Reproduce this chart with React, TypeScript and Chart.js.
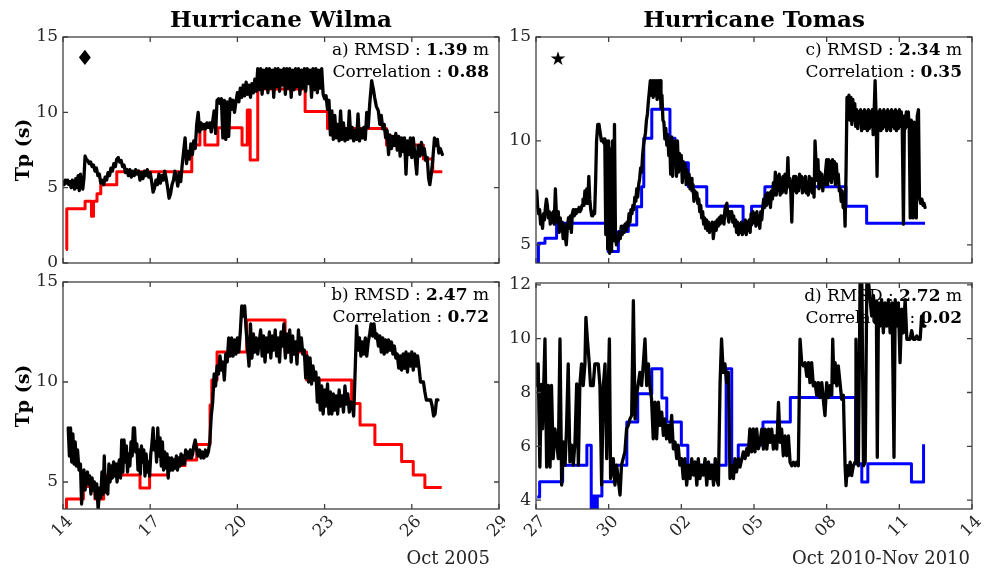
import React, { useEffect, useRef } from 'react';
import { Chart, registerables } from 'chart.js';
Chart.register(...registerables);

type Pt = [number, number];

// ---------- axes ----------
const wilmaXTicks = [14, 17, 20, 23, 26, 29];
const wilmaXLabels = ['14', '17', '20', '23', '26', '29'];
const tomasXTicks = [27, 30, 33, 36, 39, 42, 45];
const tomasXLabels = ['27', '30', '02', '05', '08', '11', '14'];
const aYTicks = [0, 5, 10, 15];
const bYTicks = [5, 10, 15];
const cYTicks = [5, 10, 15];
const dYTicks = [4, 6, 8, 10, 12];

// ---------- a) Wilma, top ----------
const aBlack: Pt[] = [
  [14.00,5.4],[14.04,5.2],[14.08,5.5],[14.12,5.3],[14.16,5.5],[14.20,5.2],[14.24,5.4],[14.28,5.0],[14.32,5.5],[14.36,5.3],
  [14.40,4.9],[14.44,5.6],[14.48,5.0],[14.52,5.8],[14.56,4.8],[14.60,5.9],[14.64,5.2],[14.68,4.9],[14.72,5.6],[14.76,7.1],
  [14.80,6.9],[14.85,6.8],[14.90,6.6],[14.95,6.7],[15.00,6.4],[15.05,6.5],[15.10,6.1],[15.15,6.3],[15.20,5.8],[15.25,5.9],
  [15.30,5.3],[15.35,5.5],[15.40,5.2],[15.45,5.7],[15.50,5.5],[15.55,6.0],[15.60,5.8],[15.65,6.3],[15.70,6.1],[15.75,6.6],
  [15.80,6.4],[15.85,6.9],[15.90,7.0],[15.95,6.7],[16.00,6.8],[16.05,6.4],[16.10,6.5],[16.15,6.0],[16.20,6.2],[16.25,5.8],
  [16.30,6.2],[16.35,5.7],[16.40,6.1],[16.45,5.8],[16.50,6.2],[16.55,5.9],[16.60,6.1],[16.65,5.5],[16.70,6.0],[16.75,5.6],
  [16.80,6.1],[16.85,5.8],[16.90,6.2],[16.95,5.7],[17.00,6.0],[17.05,5.4],[17.10,4.7],[17.15,5.0],[17.20,5.5],[17.25,5.2],
  [17.30,5.9],[17.35,5.3],[17.40,5.8],[17.45,5.5],[17.50,6.1],[17.55,5.6],[17.60,5.0],[17.65,4.3],[17.70,4.6],[17.75,5.2],
  [17.80,5.5],[17.85,6.1],[17.90,5.7],[17.95,5.1],[18.00,6.0],[18.05,5.4],[18.10,6.5],[18.15,7.4],[18.20,8.3],[18.25,6.6],
  [18.30,7.4],[18.35,6.9],[18.40,7.9],[18.45,7.2],[18.50,8.1],[18.55,7.6],[18.60,9.2],[18.65,10.0],[18.70,8.7],[18.75,9.3],
  [18.80,8.9],[18.85,9.2],[18.90,8.9],[18.95,9.3],[19.00,9.0],[19.05,9.3],[19.10,8.7],[19.15,9.4],[19.20,10.1],[19.25,8.6],
  [19.30,10.8],[19.35,10.9],[19.40,10.6],[19.45,10.9],[19.50,8.3],[19.55,10.8],[19.60,8.2],[19.65,10.7],[19.70,8.4],[19.75,10.9],
  [19.80,10.2],[19.85,10.8],[19.90,10.0],[19.95,10.7],[20.00,11.3],[20.05,10.7],[20.10,11.6],[20.15,11.0],[20.20,11.8],[20.25,11.1],
  [20.30,12.0],[20.35,11.2],[20.40,11.8],[20.45,11.0],[20.50,11.9],[20.55,11.3],[20.60,12.2],[20.65,11.4],[20.70,12.9],[20.75,11.5],
  [20.80,12.9],[20.85,11.2],[20.90,12.8],[20.95,11.6],[21.00,12.9],[21.05,11.3],[21.10,12.9],[21.15,11.6],[21.20,12.8],[21.25,11.0],
  [21.30,12.9],[21.35,11.7],[21.40,12.9],[21.45,11.4],[21.50,12.8],[21.55,11.8],[21.60,12.9],[21.65,11.2],[21.70,12.9],[21.75,11.6],
  [21.80,12.9],[21.85,11.0],[21.90,12.8],[21.95,11.5],[22.00,12.9],[22.05,11.7],[22.10,12.9],[22.15,11.2],[22.20,12.8],[22.25,11.6],
  [22.30,12.9],[22.35,11.4],[22.40,12.9],[22.45,11.9],[22.50,12.8],[22.55,11.0],[22.60,12.9],[22.65,11.5],[22.70,12.9],[22.75,11.3],
  [22.80,12.8],[22.85,11.6],[22.90,12.9],[22.95,11.2],[23.00,10.9],[23.05,11.1],[23.10,10.2],[23.15,10.8],[23.20,8.5],[23.25,10.1],
  [23.30,8.2],[23.35,9.8],[23.40,8.3],[23.45,9.2],[23.50,8.1],[23.55,10.1],[23.60,8.2],[23.65,9.3],[23.70,8.1],[23.75,8.9],
  [23.80,8.2],[23.85,10.1],[23.90,8.3],[23.95,9.0],[24.00,8.1],[24.05,8.8],[24.10,8.2],[24.15,9.9],[24.20,8.1],[24.25,8.9],
  [24.30,8.3],[24.35,9.0],[24.40,8.2],[24.45,10.0],[24.50,9.0],[24.55,10.5],[24.62,12.1],[24.68,11.5],[24.72,11.0],[24.78,10.4],
  [24.85,10.1],[24.90,9.2],[24.95,9.8],[25.00,8.9],[25.05,9.2],[25.10,8.3],[25.15,8.8],[25.20,7.2],[25.25,8.5],[25.30,7.6],
  [25.35,8.4],[25.40,7.8],[25.45,8.6],[25.50,7.5],[25.55,8.4],[25.60,7.1],[25.65,8.3],[25.70,7.4],[25.75,8.3],[25.80,5.9],
  [25.85,8.1],[25.90,7.2],[25.95,8.3],[26.00,7.0],[26.05,8.3],[26.10,7.3],[26.17,5.9],[26.22,7.8],[26.28,7.1],[26.33,8.0],
  [26.38,7.2],[26.43,7.6],[26.48,6.8],[26.53,7.0],[26.58,5.6],[26.62,5.2],[26.67,5.9],[26.72,6.8],[26.78,8.3],[26.83,7.8],
  [26.88,8.2],[26.93,7.3],[26.98,7.6],[27.05,7.2],
];
const aRed: Pt[] = [
  [14.10,0.9],[14.13,3.6],[14.76,4.1],[14.98,3.1],[15.05,4.1],[15.17,4.6],[15.30,5.2],[15.85,6.05],[18.43,7.83],[18.71,8.98],
  [18.88,7.83],[19.33,8.98],[20.16,7.83],[20.34,10.15],[20.44,6.83],[20.70,11.55],[22.33,10.05],[23.10,8.92],[25.13,7.83],
  [26.40,6.9],[26.72,6.06],[27.05,6.06],
];

// ---------- b) Wilma, bottom ----------
const bBlack: Pt[] = [
  [14.18,7.7],[14.22,6.3],[14.26,7.7],[14.30,6.0],[14.34,7.4],[14.38,5.9],[14.42,7.0],[14.46,5.8],[14.50,6.6],[14.55,5.6],
  [14.60,5.9],[14.64,3.9],[14.68,5.0],[14.72,5.6],[14.76,4.6],[14.80,5.2],[14.84,5.5],[14.88,4.9],[14.92,5.3],[14.96,4.4],
  [15.00,5.2],[15.04,4.6],[15.08,5.0],[15.12,4.2],[15.16,4.9],[15.21,3.6],[15.26,4.7],[15.30,4.2],[15.34,5.5],[15.38,4.4],
  [15.42,6.3],[15.46,4.5],[15.50,5.2],[15.54,4.4],[15.58,5.9],[15.62,5.0],[15.66,5.8],[15.70,5.2],[15.74,6.0],[15.78,5.3],
  [15.82,5.9],[15.86,5.0],[15.90,5.8],[15.94,6.1],[15.98,5.2],[16.02,7.1],[16.06,5.5],[16.10,7.1],[16.14,6.0],[16.18,6.8],
  [16.22,5.5],[16.26,6.4],[16.30,5.8],[16.34,7.0],[16.38,6.3],[16.42,7.7],[16.46,7.7],[16.50,6.5],[16.54,6.9],[16.58,5.6],
  [16.62,6.6],[16.66,5.4],[16.70,6.8],[16.74,6.0],[16.78,6.6],[16.82,5.3],[16.86,6.4],[16.90,5.5],[16.94,6.0],[16.98,5.3],
  [17.02,6.4],[17.06,6.9],[17.10,7.7],[17.14,6.6],[17.18,7.0],[17.22,6.0],[17.26,7.7],[17.30,6.3],[17.34,7.2],[17.38,5.8],
  [17.42,7.0],[17.46,5.6],[17.50,6.5],[17.54,5.7],[17.58,6.4],[17.62,5.2],[17.66,6.2],[17.70,5.6],[17.74,6.2],[17.78,5.6],
  [17.82,6.1],[17.86,5.7],[17.90,6.3],[17.94,5.6],[17.98,6.2],[18.02,5.8],[18.06,6.4],[18.10,5.9],[18.14,6.3],[18.18,5.9],
  [18.22,6.6],[18.26,6.2],[18.30,6.5],[18.34,6.2],[18.38,6.6],[18.42,6.2],[18.46,6.4],[18.50,6.8],[18.55,7.1],[18.60,6.6],
  [18.65,6.3],[18.70,6.6],[18.75,6.2],[18.80,6.5],[18.85,6.2],[18.90,6.6],[18.95,6.3],[19.00,6.5],[19.05,7.0],[19.10,8.3],
  [19.15,9.0],[19.20,10.4],[19.25,9.8],[19.30,10.8],[19.35,10.4],[19.40,11.3],[19.45,10.6],[19.50,11.0],[19.55,10.1],[19.60,11.4],
  [19.65,11.0],[19.70,12.2],[19.75,11.3],[19.80,12.2],[19.85,11.3],[19.90,12.1],[19.95,11.4],[20.00,12.2],[20.05,11.5],[20.10,12.5],
  [20.15,13.8],[20.20,13.3],[20.25,13.8],[20.30,12.6],[20.35,11.7],[20.40,10.8],[20.45,12.9],[20.50,11.2],[20.55,12.4],[20.60,11.5],
  [20.65,12.2],[20.70,11.4],[20.75,12.0],[20.80,12.6],[20.85,11.3],[20.90,12.3],[20.95,11.0],[21.00,12.2],[21.05,11.5],[21.10,12.5],
  [21.15,11.2],[21.20,12.3],[21.25,11.6],[21.30,12.6],[21.35,11.3],[21.40,12.2],[21.45,11.0],[21.50,12.5],[21.55,11.8],[21.60,12.9],
  [21.65,11.2],[21.70,12.4],[21.75,11.5],[21.80,12.6],[21.85,11.0],[21.90,12.3],[21.95,11.4],[22.00,12.0],[22.05,10.9],[22.10,12.6],
  [22.15,11.6],[22.20,12.2],[22.25,11.4],[22.30,11.6],[22.35,10.2],[22.40,11.3],[22.45,10.0],[22.50,11.2],[22.55,9.9],[22.60,10.8],
  [22.65,10.1],[22.70,10.5],[22.75,9.0],[22.80,10.2],[22.85,8.6],[22.90,9.8],[22.95,8.4],[23.00,9.6],[23.05,8.8],[23.10,9.9],
  [23.15,8.4],[23.20,9.5],[23.25,8.4],[23.30,9.4],[23.35,8.6],[23.40,9.3],[23.45,8.4],[23.50,9.6],[23.55,8.8],[23.60,9.3],
  [23.65,8.5],[23.70,9.8],[23.75,8.9],[23.80,9.4],[23.85,8.5],[23.90,9.0],[23.95,8.9],[24.00,8.3],[24.05,10.5],[24.10,12.8],
  [24.15,11.6],[24.20,12.2],[24.25,11.3],[24.30,12.0],[24.35,11.4],[24.40,12.2],[24.45,11.3],[24.50,12.0],[24.55,12.4],[24.60,12.9],
  [24.65,12.3],[24.70,12.9],[24.75,12.2],[24.80,12.4],[24.85,11.8],[24.90,12.3],[24.95,11.5],[25.00,12.2],[25.05,11.4],[25.10,12.1],
  [25.15,11.5],[25.20,12.1],[25.25,11.6],[25.30,12.0],[25.35,11.4],[25.40,11.8],[25.45,11.2],[25.50,11.4],[25.55,10.7],[25.60,11.3],
  [25.65,10.6],[25.70,11.4],[25.75,10.7],[25.80,11.5],[25.85,10.5],[25.90,11.4],[25.95,10.8],[26.00,11.5],[26.05,10.6],[26.10,11.4],
  [26.15,10.8],[26.20,11.3],[26.25,10.7],[26.30,10.0],[26.35,10.0],[26.40,10.0],[26.45,9.5],[26.50,9.1],[26.55,9.1],[26.60,9.1],
  [26.65,9.1],[26.70,8.8],[26.75,8.3],[26.80,8.4],[26.85,9.1],[26.90,9.1],
];
const bRed: Pt[] = [
  [14.07,3.7],[14.12,4.15],[14.70,4.77],[15.10,4.15],[15.40,4.77],[15.50,5.35],[16.65,4.7],[16.98,5.35],[17.62,5.82],[18.20,6.1],
  [18.60,6.88],[19.06,8.85],[19.12,10.1],[19.30,11.5],[20.32,13.1],[21.64,11.5],[22.38,10.1],[23.93,8.93],[24.22,7.85],
  [24.73,6.88],[25.65,6.02],[26.05,5.35],[26.45,4.72],[27.03,4.72],
];

// ---------- c) Tomas, top ----------
const cBlack: Pt[] = [
  [27.03,7.6],[27.07,6.8],[27.11,6.5],[27.15,6.7],[27.19,6.0],[27.23,6.4],[27.27,5.8],[27.31,6.5],[27.35,6.2],[27.39,6.8],
  [27.43,7.2],[27.47,6.9],[27.51,6.3],[27.55,6.6],[27.59,6.0],[27.63,6.5],[27.67,6.1],[27.71,6.6],[27.75,6.0],[27.80,7.7],
  [27.84,6.5],[27.88,6.1],[27.92,6.6],[27.96,5.6],[28.00,6.3],[28.04,5.8],[28.08,6.1],[28.12,5.3],[28.16,6.0],[28.20,5.5],
  [28.25,5.0],[28.30,5.9],[28.34,6.3],[28.38,5.8],[28.42,6.4],[28.46,5.6],[28.50,6.5],[28.54,6.7],[28.58,6.4],[28.62,6.7],
  [28.66,6.5],[28.70,6.7],[28.74,6.6],[28.78,6.8],[28.82,6.6],[28.86,6.7],[28.90,6.9],[28.94,7.2],[28.98,6.9],[29.02,7.6],
  [29.06,7.0],[29.10,7.7],[29.14,7.0],[29.18,8.3],[29.22,7.2],[29.26,6.7],[29.30,6.4],[29.34,6.4],[29.38,6.6],[29.42,6.5],
  [29.46,8.0],[29.50,10.0],[29.55,10.8],[29.60,10.8],[29.65,10.4],[29.70,10.0],[29.75,10.1],[29.80,9.9],[29.84,10.1],[29.88,5.5],
  [29.92,10.0],[29.96,4.8],[30.00,10.0],[30.04,4.6],[30.08,9.6],[30.12,4.7],[30.16,10.0],[30.20,5.2],[30.24,10.8],[30.28,5.5],
  [30.32,5.0],[30.36,5.4],[30.40,5.2],[30.44,5.6],[30.48,5.3],[30.52,5.9],[30.56,5.5],[30.60,5.9],[30.64,5.6],[30.68,6.0],
  [30.72,5.7],[30.76,6.1],[30.80,5.9],[30.84,6.5],[30.88,6.1],[30.92,6.7],[30.96,6.5],[31.00,6.9],[31.04,6.7],[31.08,7.3],
  [31.12,7.1],[31.16,7.7],[31.20,7.3],[31.24,7.9],[31.28,8.2],[31.32,8.7],[31.36,8.5],[31.40,9.3],[31.44,9.8],[31.48,10.1],
  [31.52,10.4],[31.56,11.0],[31.60,11.3],[31.64,11.9],[31.68,12.4],[31.72,12.9],[31.76,12.2],[31.80,12.9],[31.84,12.1],[31.88,12.9],
  [31.92,12.2],[31.96,12.9],[32.00,12.0],[32.04,12.9],[32.08,12.1],[32.12,12.9],[32.16,11.6],[32.20,12.2],[32.24,11.0],[32.28,10.9],
  [32.32,10.1],[32.36,10.6],[32.40,9.8],[32.44,10.3],[32.48,9.3],[32.52,10.0],[32.56,8.4],[32.60,10.2],[32.64,8.3],[32.68,10.0],
  [32.72,9.2],[32.76,10.0],[32.80,8.3],[32.84,10.0],[32.88,8.5],[32.92,9.4],[32.96,8.6],[33.00,9.3],[33.04,8.0],[33.08,9.0],
  [33.12,8.4],[33.16,8.9],[33.20,7.9],[33.24,8.6],[33.28,8.0],[33.32,8.4],[33.36,7.7],[33.40,8.2],[33.44,7.6],[33.48,7.9],
  [33.52,7.1],[33.56,7.6],[33.60,7.3],[33.64,7.5],[33.68,7.0],[33.72,7.2],[33.76,6.6],[33.80,6.9],[33.84,6.3],[33.88,6.6],
  [33.92,6.0],[33.96,6.3],[34.00,5.8],[34.04,6.2],[34.08,5.7],[34.12,6.1],[34.16,5.6],[34.20,6.0],[34.24,5.7],[34.28,6.1],
  [34.32,5.3],[34.36,5.8],[34.40,6.1],[34.44,5.7],[34.48,6.2],[34.52,5.9],[34.56,6.3],[34.60,6.0],[34.64,6.4],[34.68,6.1],
  [34.72,6.4],[34.76,6.0],[34.80,6.7],[34.84,6.9],[34.88,7.0],[34.92,6.4],[34.96,6.1],[35.00,6.6],[35.04,6.3],[35.08,6.6],
  [35.12,6.1],[35.16,6.4],[35.20,5.9],[35.24,6.2],[35.28,5.6],[35.32,6.1],[35.36,5.5],[35.40,6.0],[35.44,5.6],[35.48,6.1],
  [35.52,5.5],[35.56,6.0],[35.60,5.6],[35.64,6.2],[35.68,5.5],[35.72,6.1],[35.76,5.7],[35.80,6.2],[35.84,5.6],[35.88,6.5],
  [35.92,6.0],[35.96,6.6],[36.00,6.1],[36.04,6.5],[36.08,5.9],[36.12,6.6],[36.16,6.0],[36.20,6.4],[36.24,5.8],[36.28,6.6],
  [36.32,6.2],[36.36,6.8],[36.40,7.2],[36.44,6.8],[36.48,7.4],[36.52,6.9],[36.56,7.5],[36.60,7.0],[36.64,7.5],[36.68,6.8],
  [36.72,7.6],[36.76,7.2],[36.80,8.0],[36.84,7.4],[36.88,8.5],[36.92,7.4],[36.96,8.3],[37.00,7.6],[37.04,8.4],[37.08,7.4],
  [37.12,8.2],[37.16,7.5],[37.20,8.3],[37.24,7.6],[37.28,8.4],[37.32,7.5],[37.36,8.0],[37.40,9.2],[37.44,7.8],[37.48,8.2],
  [37.52,7.5],[37.56,6.1],[37.60,7.8],[37.64,8.3],[37.68,7.6],[37.72,8.3],[37.76,7.5],[37.80,8.2],[37.84,7.6],[37.88,8.4],
  [37.92,7.8],[37.96,8.3],[38.00,7.5],[38.04,8.2],[38.08,7.6],[38.12,8.3],[38.16,7.5],[38.20,8.0],[38.24,7.4],[38.28,8.3],
  [38.32,7.6],[38.36,8.2],[38.40,7.5],[38.44,8.0],[38.48,7.3],[38.52,10.0],[38.56,9.0],[38.60,8.1],[38.64,9.1],[38.68,7.7],
  [38.72,8.5],[38.76,7.8],[38.80,8.4],[38.84,7.6],[38.88,8.2],[38.92,7.9],[38.96,8.6],[39.00,9.1],[39.04,7.9],[39.08,9.1],
  [39.12,8.1],[39.16,9.0],[39.20,8.0],[39.24,9.1],[39.28,8.2],[39.32,9.0],[39.36,7.9],[39.40,8.9],[39.44,8.0],[39.48,8.4],
  [39.52,7.6],[39.56,7.7],[39.60,7.1],[39.64,7.6],[39.68,6.8],[39.72,7.4],[39.76,5.9],[39.80,8.5],[39.84,12.1],[39.88,11.2],
  [39.92,12.2],[39.96,11.0],[40.00,12.1],[40.04,10.8],[40.08,12.0],[40.12,11.0],[40.16,11.8],[40.20,10.7],[40.24,11.5],[40.28,10.6],
  [40.32,11.4],[40.36,10.9],[40.40,11.5],[40.44,10.5],[40.48,11.4],[40.52,10.6],[40.56,11.5],[40.60,10.6],[40.64,11.4],[40.68,10.5],
  [40.72,11.5],[40.76,10.6],[40.80,11.4],[40.84,10.7],[40.88,11.5],[40.92,10.3],[40.96,11.4],[41.00,12.9],[41.04,11.2],[41.08,8.3],
  [41.12,11.4],[41.16,10.6],[41.20,11.5],[41.24,10.5],[41.28,11.4],[41.32,10.6],[41.36,11.5],[41.40,10.7],[41.44,11.4],[41.48,10.5],
  [41.52,11.5],[41.56,10.6],[41.60,11.4],[41.64,10.5],[41.68,11.5],[41.72,10.7],[41.76,11.4],[41.80,10.6],[41.84,11.5],[41.88,10.5],
  [41.92,11.4],[41.96,10.6],[42.00,11.5],[42.04,10.7],[42.08,11.4],[42.12,10.6],[42.17,6.0],[42.21,11.2],[42.25,10.6],[42.29,11.4],
  [42.33,10.7],[42.37,11.4],[42.41,10.6],[42.45,6.3],[42.49,11.0],[42.53,10.8],[42.57,6.3],[42.61,10.9],[42.65,10.6],[42.70,6.3],
  [42.74,11.2],[42.79,11.5],[42.83,7.3],[42.88,7.0],[42.93,7.2],[42.98,6.9],[43.02,7.0],[43.06,6.8],
];
const cBlue: Pt[] = [
  [27.08,4.1],[27.10,5.08],[27.37,5.32],[27.85,6.04],[29.98,4.68],[30.40,5.64],[30.81,5.96],[31.16,6.84],[31.36,7.8],
  [31.45,10.13],[31.78,11.52],[32.53,10.13],[32.74,8.95],[33.29,7.8],[34.05,6.86],[35.55,5.96],[35.90,6.86],[36.45,7.8],
  [39.80,6.86],[40.65,6.04],[43.06,6.04],
];

// ---------- d) Tomas, bottom ----------
const dBlack: Pt[] = [
  [27.00,9.06],[27.05,8.26],[27.09,9.06],[27.16,5.23],[27.22,8.3],[27.27,6.65],[27.37,9.99],[27.44,5.23],[27.51,8.26],[27.58,5.23],
  [27.64,8.26],[27.71,5.54],[27.78,6.65],[27.85,6.16],[27.92,5.54],[27.99,9.99],[28.06,4.56],[28.13,6.16],[28.20,5.30],[28.26,6.65],
  [28.33,9.06],[28.40,5.42],[28.47,6.04],[28.54,5.30],[28.61,6.16],[28.68,8.32],[28.75,5.30],[28.81,8.26],[28.88,9.06],[28.95,8.26],
  [29.02,9.06],[29.06,10.79],[29.12,9.99],[29.20,9.06],[29.25,8.26],[29.36,8.26],[29.43,9.06],[29.57,9.06],[29.64,8.26],[29.71,4.56],
  [29.78,8.26],[29.85,9.06],[29.92,5.54],[30.03,9.99],[30.08,4.80],[30.19,5.54],[30.26,4.56],[30.33,5.30],[30.47,4.19],[30.53,5.30],
  [30.67,5.79],[30.74,6.65],[30.81,6.78],[30.88,7.02],[30.95,7.15],[31.02,11.41],[31.09,7.02],[31.15,7.89],[31.29,8.75],[31.36,8.26],
  [31.43,9.06],[31.50,9.99],[31.57,8.26],[31.64,9.06],[31.70,8.26],[31.77,7.77],[31.84,6.28],[31.91,7.64],[31.98,6.28],[32.05,7.64],
  [32.12,6.78],[32.19,7.27],[32.26,6.41],[32.32,7.02],[32.39,6.28],[32.46,6.78],[32.53,6.16],[32.60,7.15],[32.67,5.91],[32.74,6.16],
  [32.81,5.54],[32.87,6.04],[32.94,5.30],[33.01,5.54],[33.08,4.80],[33.15,5.54],[33.22,4.56],[33.29,5.30],[33.36,4.80],[33.43,5.54],
  [33.50,4.93],[33.57,5.42],[33.64,4.56],[33.70,5.54],[33.77,4.80],[33.84,5.30],[33.91,4.93],[33.98,5.54],[34.05,4.56],[34.12,5.42],
  [34.19,4.80],[34.26,5.30],[34.33,4.56],[34.40,5.54],[34.46,4.80],[34.53,4.56],[34.60,8.38],[34.66,9.99],[34.73,8.75],[34.80,9.06],
  [34.87,8.38],[34.94,8.75],[35.01,4.80],[35.08,5.30],[35.15,4.80],[35.21,5.54],[35.28,5.05],[35.35,5.54],[35.42,5.23],[35.56,5.79],
  [35.63,5.54],[35.70,5.91],[35.76,5.67],[35.83,6.65],[35.90,5.79],[35.97,6.65],[36.04,5.79],[36.11,6.65],[36.18,5.91],[36.25,6.15],
  [36.32,6.64],[36.39,5.9],[36.46,6.64],[36.53,5.9],[36.60,6.64],[36.66,6.15],[36.73,6.64],[36.80,5.9],[36.87,6.39],[36.94,5.9],
  [37.01,7.63],[37.08,6.15],[37.14,6.64],[37.21,5.65],[37.28,6.39],[37.35,5.65],[37.42,6.39],[37.49,5.41],[37.56,5.28],[37.63,5.41],
  [37.70,5.28],[37.76,5.41],[37.83,5.28],[37.90,9.98],[37.97,9.11],[38.04,8.99],[38.11,9.11],[38.18,8.6],[38.25,9.11],[38.31,8.37],
  [38.38,9.11],[38.45,8.25],[38.52,8.37],[38.59,7.9],[38.66,8.37],[38.73,7.81],[38.80,8.37],[38.86,7.75],[38.93,7.14],[39.00,8.37],
  [39.07,7.81],[39.14,8.25],[39.21,7.9],[39.25,9.98],[39.30,8.37],[39.35,9.11],[39.42,8.25],[39.48,8.99],[39.55,8.37],[39.62,7.75],
  [39.69,7.9],[39.76,5.28],[39.80,4.54],[39.85,5.28],[39.90,4.91],[39.97,5.41],[40.03,4.91],[40.10,5.28],[40.17,5.41],[40.21,9.98],
  [40.26,5.41],[40.31,5.28],[40.38,12.2],[40.45,12.2],[40.52,5.28],[40.59,5.41],[40.66,12.2],[40.72,12.2],[40.79,11.45],[40.86,10.84],
  [40.93,11.6],[41.00,10.6],[41.05,11.4],[41.09,5.59],[41.14,11.33],[41.20,10.47],[41.27,11.45],[41.34,10.22],[41.41,11.33],[41.48,10.47],
  [41.55,11.45],[41.62,10.22],[41.70,11.33],[41.78,5.59],[41.83,11.45],[41.89,10.47],[41.96,11.33],[42.03,9.11],[42.10,11.1],[42.17,10.22],
  [42.24,11.45],[42.31,9.98],[42.38,9.98],[42.44,9.98],[42.51,10.3],[42.58,9.98],[42.65,9.98],[42.72,10.1],[42.79,9.98],[42.86,9.98],
  [42.92,10.84],[42.99,10.47],[43.06,10.47],
];
const dBlue: Pt[] = [
  [27.05,4.12],[27.15,4.68],[28.10,5.3],[29.10,6.04],[29.28,3.5],[29.36,4.15],[29.47,3.5],[29.53,4.15],[29.72,4.68],[30.24,5.3],
  [30.75,6.9],[31.20,7.95],[31.78,8.88],[32.20,7.8],[32.40,6.9],[33.00,6.04],[33.27,5.3],[34.85,8.88],[35.08,5.3],[35.35,6.05],
  [36.37,6.9],[37.50,7.81],[40.20,5.35],[40.45,4.67],[40.70,5.35],[42.50,4.67],[43.00,6.08],
];

// ---------- panel layout ----------
type Part = { t: string; b: boolean };
interface PanelCfg {
  left: number; top: number; w: number; h: number;
  padTop: number; padRight: number; yAxisW: number; xAxisH: number;
  xMin: number; xMax: number; xTicks: number[]; xLabels: string[] | null;
  yMin: number; yMax: number; yTicks: number[];
  black: Pt[]; model: Pt[]; color: string;
  line1: Part[]; line2: Part[]; marker: string | null; markerSize: number;
}

const panels: PanelCfg[] = [
  {
    left: 0, top: 0, w: 505, h: 270, padTop: 37, padRight: 6, yAxisW: 63, xAxisH: 7,
    xMin: 14, xMax: 29, xTicks: wilmaXTicks, xLabels: null,
    yMin: 0, yMax: 15, yTicks: aYTicks, black: aBlack, model: aRed, color: '#ff0000',
    line1: [{ t: 'a) RMSD : ', b: false }, { t: '1.39', b: true }, { t: ' m', b: false }],
    line2: [{ t: 'Correlation : ', b: false }, { t: '0.88', b: true }],
    marker: '\u2666', markerSize: 21,
  },
  {
    left: 0, top: 270, w: 505, h: 303, padTop: 12, padRight: 6, yAxisW: 63, xAxisH: 64,
    xMin: 14, xMax: 29, xTicks: wilmaXTicks, xLabels: wilmaXLabels,
    yMin: 3.65, yMax: 15, yTicks: bYTicks, black: bBlack, model: bRed, color: '#ff0000',
    line1: [{ t: 'b) RMSD : ', b: false }, { t: '2.47', b: true }, { t: ' m', b: false }],
    line2: [{ t: 'Correlation : ', b: false }, { t: '0.72', b: true }],
    marker: null, markerSize: 0,
  },
  {
    left: 505, top: 0, w: 480, h: 270, padTop: 37, padRight: 13, yAxisW: 31, xAxisH: 7,
    xMin: 27, xMax: 45, xTicks: tomasXTicks, xLabels: null,
    yMin: 4.13, yMax: 15, yTicks: cYTicks, black: cBlack, model: cBlue, color: '#0000ff',
    line1: [{ t: 'c) RMSD : ', b: false }, { t: '2.34', b: true }, { t: ' m', b: false }],
    line2: [{ t: 'Correlation : ', b: false }, { t: '0.35', b: true }],
    marker: '\u2605', markerSize: 19,
  },
  {
    left: 505, top: 270, w: 480, h: 303, padTop: 13, padRight: 13, yAxisW: 31, xAxisH: 64,
    xMin: 27, xMax: 45, xTicks: tomasXTicks, xLabels: tomasXLabels,
    yMin: 3.67, yMax: 12.07, yTicks: dYTicks, black: dBlack, model: dBlue, color: '#0000ff',
    line1: [{ t: 'd) RMSD : ', b: false }, { t: '2.72', b: true }, { t: ' m', b: false }],
    line2: [{ t: 'Correlation : ', b: false }, { t: '0.02', b: true }],
    marker: null, markerSize: 0,
  },
];

const SERIF = '"DejaVu Serif", serif';

function fontFor(p: Part) {
  return (p.b ? 'bold ' : '') + '17px ' + SERIF;
}

function drawParts(ctx: CanvasRenderingContext2D, parts: Part[], right: number, y: number) {
  let total = 0;
  for (const p of parts) { ctx.font = fontFor(p); total += ctx.measureText(p.t).width; }
  let x = right - total;
  ctx.textAlign = 'left';
  ctx.textBaseline = 'middle';
  ctx.fillStyle = '#000';
  for (const p of parts) { ctx.font = fontFor(p); ctx.fillText(p.t, x, y); x += ctx.measureText(p.t).width; }
}

function Panel({ cfg }: { cfg: PanelCfg }) {
  const ref = useRef<HTMLCanvasElement>(null);
  useEffect(() => {
    const deco = {
      id: 'deco',
      beforeDatasetsDraw(chart: any) {
        const { ctx, chartArea: a } = chart;
        ctx.save();
        drawParts(ctx, cfg.line1, a.right - 10, a.top + 14);
        drawParts(ctx, cfg.line2, a.right - 10, a.top + 36);
        if (cfg.marker) {
          ctx.font = cfg.markerSize + 'px "DejaVu Sans"';
          ctx.textAlign = 'center';
          ctx.textBaseline = 'middle';
          ctx.fillStyle = '#000';
          ctx.fillText(cfg.marker, a.left + 22, a.top + 23);
        }
        ctx.restore();
      },
      afterDraw(chart: any) {
        const { ctx, chartArea: a, scales } = chart;
        ctx.save();
        ctx.strokeStyle = '#404040';
        ctx.lineWidth = 1.3;
        ctx.strokeRect(a.left, a.top, a.right - a.left, a.bottom - a.top);
        const tl = 5;
        ctx.beginPath();
        for (const v of cfg.xTicks) {
          const px = scales.x.getPixelForValue(v);
          ctx.moveTo(px, a.bottom); ctx.lineTo(px, a.bottom - tl);
          ctx.moveTo(px, a.top); ctx.lineTo(px, a.top + tl);
        }
        for (const v of cfg.yTicks) {
          const py = scales.y.getPixelForValue(v);
          ctx.moveTo(a.left, py); ctx.lineTo(a.left + tl, py);
          ctx.moveTo(a.right, py); ctx.lineTo(a.right - tl, py);
        }
        ctx.stroke();
        if (cfg.xLabels) {
          ctx.font = '17px ' + SERIF;
          ctx.fillStyle = '#262626';
          ctx.textAlign = 'right';
          ctx.textBaseline = 'middle';
          cfg.xTicks.forEach((v, i) => {
            const px = scales.x.getPixelForValue(v);
            ctx.save();
            ctx.translate(px + 7, a.bottom + 10);
            ctx.rotate(-Math.PI / 4);
            ctx.fillText(cfg.xLabels![i], 0, 0);
            ctx.restore();
          });
        }
        ctx.restore();
      },
    };
    const chart = new Chart(ref.current!, {
      type: 'line',
      data: {
        datasets: [
          {
            data: cfg.black.map(([x, y]) => ({ x, y })),
            borderColor: '#000000', borderWidth: 3.3, pointRadius: 0, tension: 0,
            borderJoinStyle: 'round', borderCapStyle: 'round',
          },
          {
            data: cfg.model.map(([x, y]) => ({ x, y })),
            borderColor: cfg.color, borderWidth: 3, pointRadius: 0, stepped: 'before',
            borderJoinStyle: 'round',
          },
        ],
      } as any,
      options: {
        animation: false,
        responsive: false,
        events: [],
        layout: { padding: { top: cfg.padTop, right: cfg.padRight, left: 0, bottom: 0 } },
        plugins: { legend: { display: false }, tooltip: { enabled: false } },
        scales: {
          x: {
            type: 'linear', min: cfg.xMin, max: cfg.xMax,
            grid: { display: false, drawTicks: false }, border: { display: false },
            ticks: { display: false },
            afterBuildTicks: (s: any) => { s.ticks = cfg.xTicks.map((v) => ({ value: v })); },
            afterFit: (s: any) => { s.height = cfg.xAxisH; s.paddingLeft = 0; s.paddingRight = 0; s.paddingTop = 0; s.paddingBottom = 0; },
          },
          y: {
            type: 'linear', min: cfg.yMin, max: cfg.yMax,
            grid: { display: false, drawTicks: false }, border: { display: false },
            ticks: { font: { family: 'DejaVu Serif', size: 17 }, color: '#262626', padding: 5, autoSkip: false, callback: (v: any) => String(v) },
            afterBuildTicks: (s: any) => { s.ticks = cfg.yTicks.map((v) => ({ value: v })); },
            afterFit: (s: any) => { s.width = cfg.yAxisW; s.paddingTop = 0; s.paddingBottom = 0; s.paddingLeft = 0; s.paddingRight = 0; },
          },
        },
      } as any,
      plugins: [deco],
    });
    return () => chart.destroy();
  }, [cfg]);
  return (
    <canvas
      ref={ref}
      width={cfg.w}
      height={cfg.h}
      style={{ position: 'absolute', left: cfg.left, top: cfg.top, width: cfg.w, height: cfg.h }}
    />
  );
}

export default function App() {
  const title: React.CSSProperties = {
    position: 'absolute', top: 7, width: 436, textAlign: 'center',
    font: 'bold 23px "DejaVu Serif"', lineHeight: '23px', color: '#000', whiteSpace: 'nowrap',
  };
  const ylab: React.CSSProperties = {
    position: 'absolute', left: 22, transform: 'translate(-50%,-50%) rotate(-90deg)',
    font: 'bold 19px "DejaVu Serif"', lineHeight: '19px', color: '#000', whiteSpace: 'nowrap',
  };
  const dateLab: React.CSSProperties = {
    position: 'absolute', top: 549, font: '18px "DejaVu Serif"', lineHeight: '18px', color: '#262626', whiteSpace: 'nowrap',
  };
  return (
    <div style={{ position: 'absolute', left: 0, top: 0, width: 985, height: 573, background: '#fff', overflow: 'hidden' }}>
      {panels.map((p, i) => <Panel key={i} cfg={p} />)}
      <div style={{ ...title, left: 63 }}>Hurricane Wilma</div>
      <div style={{ ...title, left: 536 }}>Hurricane Tomas</div>
      <div style={{ ...ylab, top: 150 }}>Tp (s)</div>
      <div style={{ ...ylab, top: 396 }}>Tp (s)</div>
      <div style={{ ...dateLab, right: 495 }}>Oct 2005</div>
      <div style={{ ...dateLab, right: 15 }}>Oct 2010-Nov 2010</div>
    </div>
  );
}
